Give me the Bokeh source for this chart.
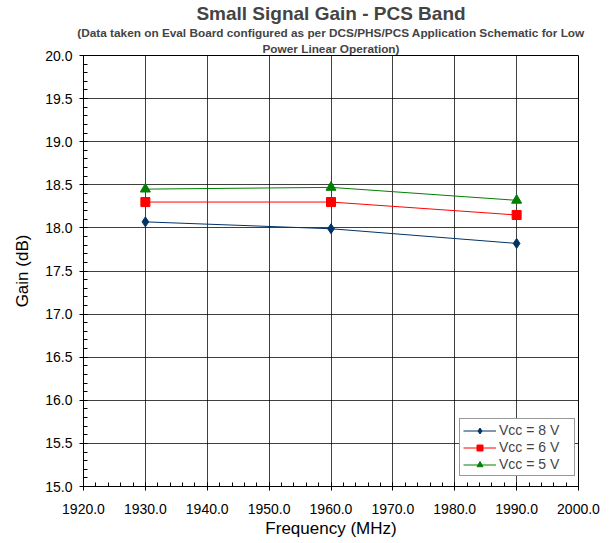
from bokeh.plotting import figure
from bokeh.models import Range1d, FixedTicker, PrintfTickFormatter, Title, Legend, LegendItem
from bokeh.embed import file_html
from bokeh.resources import INLINE

freq = [1930, 1960, 1990]
gain_8v = [18.07, 17.99, 17.82]
gain_6v = [18.30, 18.30, 18.15]
gain_5v = [18.45, 18.47, 18.32]
x_ticks = [1920, 1930, 1940, 1950, 1960, 1970, 1980, 1990, 2000]
x_minor = list(range(1920, 2001, 2))
y_ticks = [15.0, 15.5, 16.0, 16.5, 17.0, 17.5, 18.0, 18.5, 19.0, 19.5, 20.0]
y_minor = [round(15 + 0.1 * i, 1) for i in range(51)]

FONT = "Liberation Sans"

p = figure(width=600, height=543, output_backend="svg", toolbar_location=None,
           x_range=Range1d(1920, 2000), y_range=Range1d(15, 20),
           min_border_left=83, min_border_right=22, min_border_bottom=57, min_border_top=10)
p.title = None
p.outline_line_color = "black"
p.outline_line_width = 1
p.background_fill_color = "white"
p.border_fill_color = "white"

p.xaxis.ticker = FixedTicker(ticks=x_ticks, minor_ticks=x_minor)
p.yaxis.ticker = FixedTicker(ticks=y_ticks, minor_ticks=y_minor)
p.xaxis.formatter = PrintfTickFormatter(format="%.1f")
p.yaxis.formatter = PrintfTickFormatter(format="%.1f")

for ax in (p.xaxis, p.yaxis):
    ax.axis_line_color = "black"
    ax.major_tick_line_color = "black"
    ax.minor_tick_line_color = "black"
    ax.major_tick_in = 4
    ax.major_tick_out = 4
    ax.minor_tick_in = 4
    ax.minor_tick_out = 0
    ax.major_label_text_font = FONT
    ax.major_label_text_font_size = "14px"
    ax.major_label_text_color = "black"
    ax.axis_label_text_font = FONT
    ax.axis_label_text_font_style = "normal"
    ax.axis_label_text_color = "black"
    ax.axis_label_text_font_size = "17px"

p.xaxis.axis_label = "Frequency (MHz)"
p.xaxis.major_label_standoff = 13
p.xaxis.axis_label_standoff = 2
p.yaxis.axis_label = "Gain (dB)"
p.yaxis.major_label_standoff = 7
p.yaxis.axis_label_standoff = 10

p.xgrid.ticker = FixedTicker(ticks=x_ticks)
p.ygrid.ticker = FixedTicker(ticks=y_ticks)
p.xgrid.grid_line_color = "black"
p.ygrid.grid_line_color = "black"
p.xgrid.grid_line_alpha = 0.75
p.ygrid.grid_line_alpha = 0.75

c8, c6, c5 = "#003366", "#FF0000", "#008000"
l8 = p.line(freq, gain_8v, line_color=c8, line_width=1)
m8 = p.scatter(freq, gain_8v, marker="diamond", size=10, fill_color=c8, line_color=c8)
l6 = p.line(freq, gain_6v, line_color=c6, line_width=1)
m6 = p.scatter(freq, gain_6v, marker="square", size=9, fill_color=c6, line_color=c6)
l5 = p.line(freq, gain_5v, line_color=c5, line_width=1)
m5 = p.scatter(freq, gain_5v, marker="triangle", size=10, fill_color=c5, line_color=c5)

legend = Legend(items=[
    LegendItem(label="Vcc = 8 V", renderers=[l8, m8]),
    LegendItem(label="Vcc = 6 V", renderers=[l6, m6]),
    LegendItem(label="Vcc = 5 V", renderers=[l5, m5]),
], location=(376, 10))
legend.label_text_font = FONT
legend.label_text_font_size = "14px"
legend.label_height = 15
legend.glyph_height = 15
legend.glyph_width = 33
legend.label_width = 72
legend.label_standoff = 3
legend.spacing = 1
legend.padding = 3
legend.margin = 0
legend.border_line_color = "#333333"
legend.border_line_width = 1
legend.background_fill_alpha = 1
p.add_layout(legend, "center")

t3 = Title(text="Power Linear Operation)", align="center", text_font=FONT,
           text_font_size="11.8px", text_font_style="bold", standoff=0)
t2 = Title(text="(Data taken on Eval Board configured as per DCS/PHS/PCS Application Schematic for Low",
           align="center", text_font=FONT, text_font_size="11.8px", text_font_style="bold",
           standoff=0)
t1 = Title(text="Small Signal Gain - PCS Band", align="center", text_font=FONT,
           text_font_size="19px", text_font_style="bold", standoff=0)
p.add_layout(t3, "above")
p.add_layout(t2, "above")
p.add_layout(t1, "above")

open("out.html", "w").write(file_html(p, INLINE))
